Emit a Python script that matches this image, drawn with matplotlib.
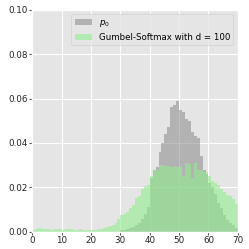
import numpy as np
import matplotlib
matplotlib.use('Agg')
import matplotlib.pyplot as plt

# bin left edges (width 1) and heights
edges = np.arange(0, 71)

p0 = [0, 0, 0, 0, 0, 0, 0, 0, 0, 0,
      0, 0, 0, 0, 0, 0, 0, 0, 0, 0,
      0, 0, 0, 0, 0, 0, 0, 0, 0, 0,
      0.0005, 0.0008, 0.0012, 0.0018, 0.0022, 0.003, 0.004, 0.0055, 0.008, 0.011,
      0.024, 0.028, 0.029, 0.036, 0.040, 0.044, 0.047, 0.056, 0.057, 0.059,
      0.055, 0.054, 0.051, 0.050, 0.045, 0.043, 0.042, 0.034, 0.028, 0.026,
      0.022, 0.020, 0.017, 0.013, 0.0105, 0.0075, 0.0053, 0.004, 0.003, 0.0015]

gumbel = [0.0008, 0.0010, 0.0015, 0.0013, 0.0010, 0.0010, 0.0008, 0.0012, 0.0012, 0.0010,
          0.0008, 0.0010, 0.0011, 0.0013, 0.0009, 0.0008, 0.0012, 0.0007, 0.0009, 0.0007,
          0.0006, 0.0008, 0.0010, 0.0012, 0.0016, 0.0020, 0.0025, 0.0030, 0.0040, 0.0055,
          0.0075, 0.0080, 0.0090, 0.0105, 0.0120, 0.0150, 0.0160, 0.0190, 0.0205, 0.0210,
          0.0253, 0.0276, 0.0276, 0.0300, 0.0300, 0.0294, 0.0294, 0.0290, 0.0294, 0.0290,
          0.0295, 0.0250, 0.0310, 0.0305, 0.0240, 0.0310, 0.0276, 0.0280, 0.0270, 0.0270,
          0.0250, 0.0230, 0.0217, 0.0210, 0.0190, 0.0180, 0.0165, 0.0160, 0.0145, 0.0125]

plt.style.use('ggplot')

fig, ax = plt.subplots(figsize=(2.49, 2.49), dpi=100)
ax.hist(edges[:-1], bins=edges, weights=p0, color='gray', alpha=0.5, label='$p_0$')
ax.hist(edges[:-1], bins=edges, weights=gumbel, color='lightgreen', alpha=0.6,
        label='Gumbel-Softmax with d = 100')
ax.set_xlim(0, 70)
ax.set_ylim(0, 0.10)
ax.set_yticks([0, 0.02, 0.04, 0.06, 0.08, 0.10])
ax.tick_params(labelsize=6.3, colors='#555555', length=2, pad=1.5)
for t in ax.get_xticklabels() + ax.get_yticklabels():
    t.set_color('#222222')
ax.legend(loc='upper right', fontsize=6.2)
fig.subplots_adjust(left=0.13, right=0.955, top=0.96, bottom=0.07)
fig.savefig('out.png', dpi=100)
